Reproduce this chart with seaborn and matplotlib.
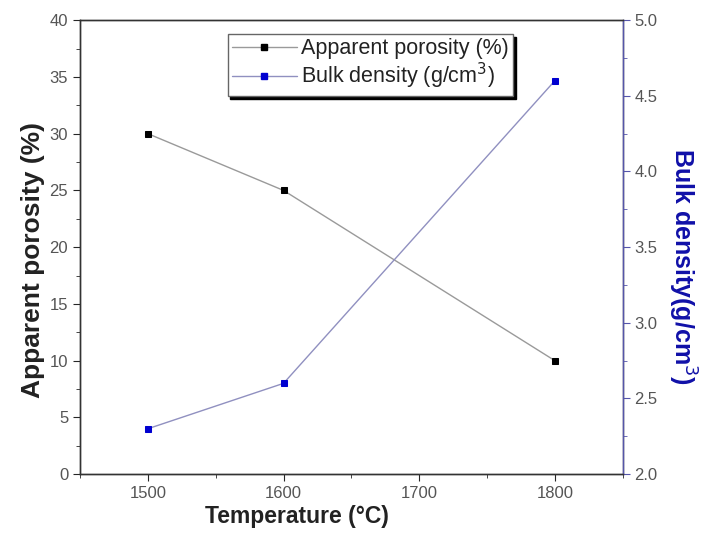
import matplotlib
matplotlib.use("Agg")
import matplotlib.pyplot as plt
import seaborn as sns
import pandas as pd
from matplotlib.ticker import MultipleLocator
from matplotlib.lines import Line2D

temperature = [1500, 1600, 1800]
porosity = [30, 25, 10]
bulk_density = [2.3, 2.6, 4.6]

sns.set_style("ticks")
plt.rcParams["font.family"] = ["Liberation Sans", "DejaVu Sans"]

df = pd.DataFrame({"T": temperature, "porosity": porosity, "density": bulk_density})

fig = plt.figure(figsize=(7.02, 5.45), dpi=100)
ax = fig.add_axes([0.114, 0.130, 0.773, 0.833])
ax2 = ax.twinx()

blue = "#1010a8"

sns.lineplot(data=df, x="T", y="porosity", ax=ax, color="#9a9a9a", lw=1.0,
             marker="s", markersize=5, markerfacecolor="black", markeredgecolor="black")
sns.lineplot(data=df, x="T", y="density", ax=ax2, color="#9090c0", lw=1.0,
             marker="s", markersize=5, markerfacecolor="#0000d0", markeredgecolor="#0000d0")

ax.set_xlim(1450, 1850)
ax.set_ylim(0, 40)
ax2.set_ylim(2.0, 5.0)
ax.xaxis.set_major_locator(MultipleLocator(100))
ax.xaxis.set_minor_locator(MultipleLocator(50))
ax.yaxis.set_major_locator(MultipleLocator(5))
ax.yaxis.set_minor_locator(MultipleLocator(2.5))
ax2.yaxis.set_major_locator(MultipleLocator(0.5))
ax2.yaxis.set_minor_locator(MultipleLocator(0.25))

for a in (ax, ax2):
    for s in a.spines.values():
        s.set_visible(True)
        s.set_linewidth(1.0)
        s.set_color("#333333")
    a.tick_params(which="both", direction="out", labelsize=12, labelcolor="#555555")
    a.tick_params(which="major", length=5)
    a.tick_params(which="minor", length=3)
ax2.spines["right"].set_color("#5555aa")
ax2.tick_params(axis="y", which="both", color="#5555aa")

ax.set_xlabel("Temperature (\u00b0C)", fontsize=16.5, fontweight="bold", color="#222222")
ax.xaxis.set_label_coords(0.40, -0.068)
ax.set_ylabel("Apparent porosity (%)", fontsize=19, fontweight="bold", color="#222222")
ax.yaxis.set_label_coords(-0.065, 0.471)
ax2.set_ylabel("Bulk density(g/cm$^3$)", fontsize=18, fontweight="bold", color=blue,
               rotation=-90, va="center")
ax2.yaxis.set_label_coords(1.110, 0.458)

handles = [
    Line2D([], [], color="#9a9a9a", lw=1.0, marker="s", markersize=5,
           markerfacecolor="black", markeredgecolor="black"),
    Line2D([], [], color="#9090c0", lw=1.0, marker="s", markersize=5,
           markerfacecolor="#0000d0", markeredgecolor="#0000d0"),
]
leg = ax2.legend(handles, ["Apparent porosity (%)", "Bulk density (g/cm$^3$)"],
                 loc="upper left", bbox_to_anchor=(0.272, 0.970), borderaxespad=0,
                 fontsize=15.5, frameon=True, fancybox=False,
                 shadow={"color": "black", "alpha": 1},
                 framealpha=1, edgecolor="#666666", handlelength=3.0,
                 handletextpad=0.2, borderpad=0.2, labelspacing=0.1)
for t in leg.get_texts():
    t.set_color("#222222")

fig.savefig("out.png", dpi=100)
